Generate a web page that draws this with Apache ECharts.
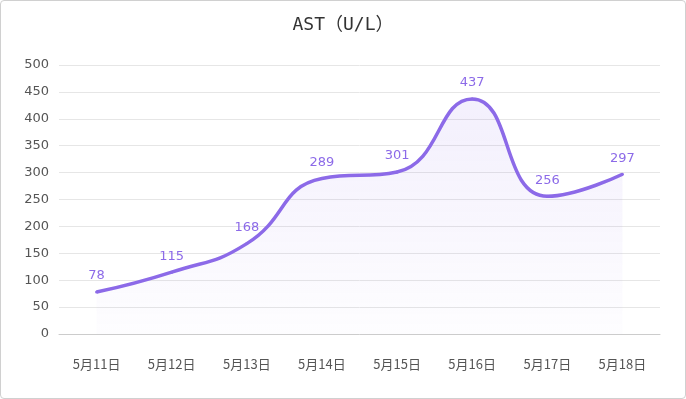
<!DOCTYPE html>
<html><head><meta charset="utf-8">
<script src="https://cdn.jsdelivr.net/npm/echarts@6/dist/echarts.min.js"></script>
<style>html,body{margin:0;padding:0;background:#fff}
#c{position:absolute;left:0;top:0;width:684px;height:397px;border:1px solid #d0d0d0;border-radius:4px}</style>
</head><body><div id="c"></div>
<script>
const categories = ['5月11日','5月12日','5月13日','5月14日','5月15日','5月16日','5月17日','5月18日'];
const values = [78,115,168,289,301,437,256,297];
const chart = echarts.init(document.getElementById('c'));
chart.setOption({
  title:{text:'AST（U/L）',left:'center',top:10,textStyle:{fontSize:18,fontWeight:'normal',color:'#333',fontFamily:'"DejaVu Sans Mono", "Noto Sans CJK SC", monospace'}},
  grid:{left:58,right:25,top:64,bottom:64},
  xAxis:{type:'category',data:categories,boundaryGap:true,
    axisLine:{lineStyle:{color:'#ccc'}},axisTick:{show:false},
    axisLabel:{color:'#555',fontSize:13,margin:24,fontFamily:'"Noto Sans CJK SC", sans-serif'}},
  yAxis:{type:'value',min:0,max:500,interval:50,
    axisLine:{show:false},axisTick:{show:false},
    splitLine:{lineStyle:{color:'#e6e6e6'}},
    axisLabel:{color:'#555',fontSize:13,margin:10,fontFamily:'"DejaVu Sans", sans-serif'}},
  series:[{type:'line',data:values,smooth:0.5,symbol:'circle',symbolSize:3,
    lineStyle:{width:3.5,color:'#8c6ae8'},itemStyle:{color:'#8c6ae8'},
    label:{show:true,position:'top',color:'#8c6ae8',fontSize:13,distance:8,fontFamily:'"DejaVu Sans", sans-serif'},
    areaStyle:{color:new echarts.graphic.LinearGradient(0,0,0,1,[{offset:0,color:'rgba(140,106,232,0.15)'},{offset:1,color:'rgba(140,106,232,0.02)'}])}
  }]
});
</script></body></html>
